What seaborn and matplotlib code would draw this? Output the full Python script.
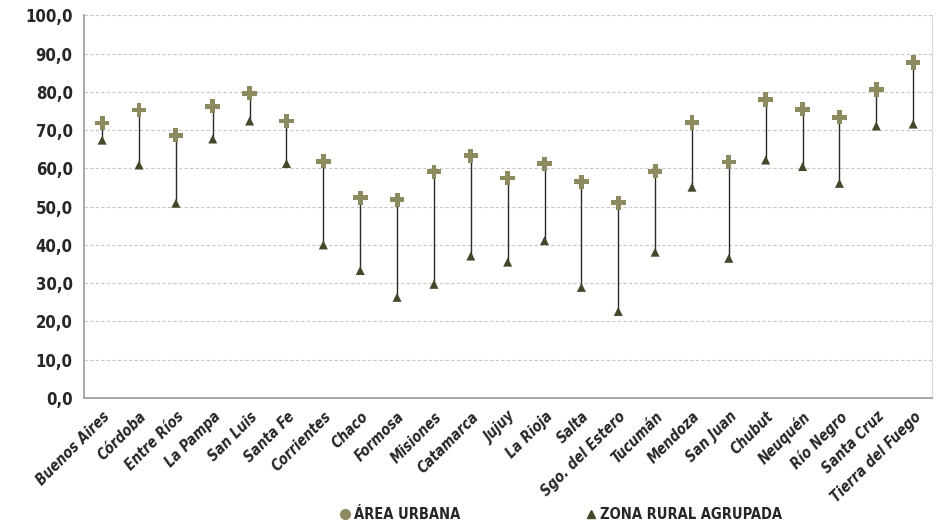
import numpy as np
import pandas as pd
import seaborn as sns
import matplotlib.pyplot as plt
from matplotlib.lines import Line2D

provincias = ["Buenos Aires", "Córdoba", "Entre Ríos", "La Pampa", "San Luis", "Santa Fe",
              "Corrientes", "Chaco", "Formosa", "Misiones", "Catamarca", "Jujuy", "La Rioja",
              "Salta", "Sgo. del Estero", "Tucumán", "Mendoza", "San Juan", "Chubut",
              "Neuquén", "Río Negro", "Santa Cruz", "Tierra del Fuego"]
urbana = [71.9, 75.3, 68.7, 76.3, 79.7, 72.4, 61.9, 52.3, 51.8, 59.1, 63.3, 57.5, 61.2,
          56.5, 51.0, 59.3, 72.0, 61.7, 78.0, 75.5, 73.4, 80.7, 87.7]
rural = [67.4, 60.9, 50.9, 67.7, 72.4, 61.3, 40.0, 33.3, 26.3, 29.7, 37.1, 35.5, 41.1,
         28.9, 22.6, 38.1, 55.1, 36.5, 62.2, 60.5, 56.1, 71.1, 71.6]

df = pd.DataFrame({"provincia": provincias, "urbana": urbana, "rural": rural})

sns.set_style("white")
plt.rcParams["font.family"] = ["DejaVu Sans"]
plt.rcParams["font.stretch"] = "condensed"

c_urb = "#8c8a5e"
c_rur = "#45472c"

fig = plt.figure(figsize=(9.41, 5.27), dpi=100)
ax = fig.add_axes([0.089, 0.245, 0.901, 0.7256])

x = np.arange(len(provincias))
ax.vlines(x, df["rural"], df["urbana"], color="#2a2a2a", lw=1.0, zorder=2)
sns.scatterplot(x=x, y=df["urbana"], ax=ax, marker="P", s=110, color=c_urb,
                edgecolor="none", zorder=3, legend=False)
sns.scatterplot(x=x, y=df["rural"], ax=ax, marker="^", s=42, color=c_rur,
                edgecolor="none", zorder=3, legend=False)

ax.set_xlim(-0.5, len(provincias) - 0.5)
ax.set_ylim(0, 100)
ax.set_yticks(np.arange(0, 101, 10))
ax.set_yticklabels([f"{v:.1f}".replace(".", ",") for v in np.arange(0, 101, 10)],
                   fontsize=12, fontweight="bold", fontstretch="condensed")
ax.set_xticks(x)
ax.set_xticklabels(provincias, rotation=45, ha="right", rotation_mode="anchor",
                   fontsize=10.5, fontweight="bold", fontstyle="oblique",
                   fontstretch="condensed")
ax.tick_params(axis="both", length=0, pad=8)
ax.set_xlabel("")
ax.set_ylabel("")

ax.yaxis.grid(True, color="#c8c8c8", linestyle=(0, (3, 2)), lw=0.8)
ax.set_axisbelow(True)
for s in ["left", "bottom"]:
    ax.spines[s].set_color("#999999")
    ax.spines[s].set_linewidth(1.2)
ax.spines["top"].set_visible(False)
ax.spines["right"].set_color("#d9d9d9")

handles = [
    Line2D([], [], marker="o", color=c_urb, ls="none", markersize=7),
    Line2D([], [], marker="^", color=c_rur, ls="none", markersize=6),
]
fig.legend(handles, ["ÁREA URBANA", "ZONA RURAL AGRUPADA"], loc="lower center",
           bbox_to_anchor=(0.594, -0.016), ncol=2, frameon=False, columnspacing=8.4,
           handletextpad=0.0, handlelength=1.2,
           prop={"weight": "bold", "size": 10.5, "stretch": "condensed"})

fig.savefig("out.png", dpi=100)
